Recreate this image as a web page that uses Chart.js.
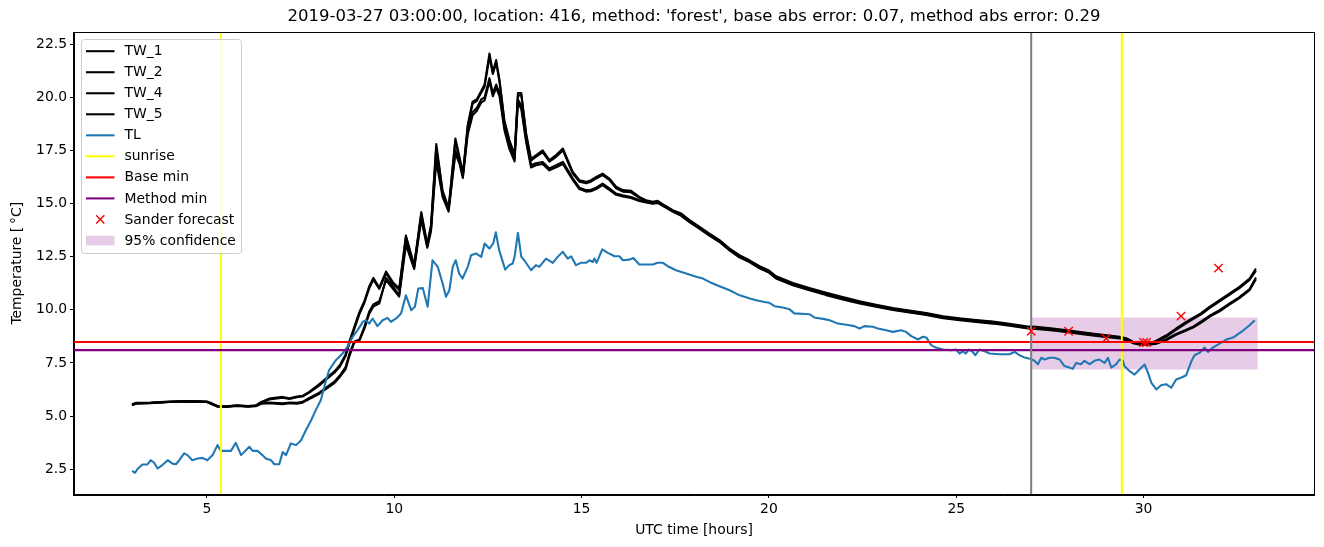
<!DOCTYPE html>
<html>
<head>
<meta charset="utf-8">
<script src="https://cdn.jsdelivr.net/npm/chart.js@4.4.1/dist/chart.umd.min.js"></script>
<style>
  html, body { margin: 0; padding: 0; background: #fff; }
  canvas { display: block; }
</style>
</head>
<body>
<canvas id="chart" width="1324" height="547"></canvas>
<script>
// --- chart text ---
const titleText = "2019-03-27 03:00:00, location: 416, method: 'forest', base abs error: 0.07, method abs error: 0.29";
const xLabel = 'UTC time [hours]';
const yLabel = 'Temperature [\u2009°C]';

// --- axes ---
const xTicks = [5, 10, 15, 20, 25, 30];
const yTicks = [2.5, 5.0, 7.5, 10.0, 12.5, 15.0, 17.5, 20.0, 22.5];
const X_MIN = 1.45, X_MAX = 34.55;
const Y_MIN = 1.33, Y_MAX = 23.05;

// --- water temperature sensors (shared time axis, hours UTC) ---
const twHours = [
  3.0, 3.1, 3.5, 4.0, 4.5, 5.0, 5.1, 5.28, 5.5, 5.8,
  6.1, 6.3, 6.45, 6.66, 7.02, 7.2, 7.4, 7.55, 7.73, 8.0,
  8.2, 8.4, 8.55, 8.7, 8.8, 8.93, 9.07, 9.2, 9.33, 9.44,
  9.6, 9.78, 9.96, 10.13, 10.31, 10.53, 10.72, 10.88, 10.98, 11.12,
  11.29, 11.45, 11.63, 11.74, 11.83, 11.96, 12.09, 12.2, 12.32, 12.41,
  12.54, 12.63, 12.72, 12.81, 12.94, 13.07, 13.21, 13.3, 13.39, 13.52,
  13.65, 13.78, 13.96, 14.14, 14.32, 14.5, 14.76, 14.94, 15.12, 15.25,
  15.39, 15.56, 15.74, 15.92, 16.1, 16.32, 16.54, 16.72, 16.9, 17.03,
  17.21, 17.43, 17.66, 17.88, 18.15, 18.41, 18.68, 18.95, 19.21, 19.48,
  19.75, 20.0, 20.19, 20.64, 21.08, 21.53, 21.97, 22.42, 22.86, 23.31,
  23.75, 24.2, 24.65, 25.09, 25.53, 25.98, 26.42, 26.87, 27.13, 27.58,
  28.02, 28.47, 28.91, 29.36, 29.54, 29.72, 29.9, 30.16, 30.34, 30.61,
  30.87, 31.14, 31.32, 31.54, 31.76, 32.03, 32.3, 32.56, 32.83, 33.0
];
const tw1 = [
  5.55, 5.62, 5.63, 5.68, 5.71, 5.68, 5.62, 5.47, 5.46, 5.50,
  5.47, 5.50, 5.66, 5.82, 5.90, 5.84, 5.92, 5.95, 6.14, 6.50,
  6.80, 7.10, 7.40, 7.90, 8.50, 9.18, 9.90, 10.40, 11.10, 11.50,
  11.05, 11.80, 11.30, 11.00, 13.50, 12.10, 14.60, 13.10, 14.00, 17.80,
  15.60, 14.80, 18.06, 17.20, 16.40, 18.70, 19.80, 19.90, 20.30, 20.60,
  22.06, 21.20, 21.75, 20.80, 18.90, 18.00, 17.30, 20.20, 20.20, 18.30,
  17.10, 17.27, 17.50, 17.04, 17.28, 17.59, 16.50, 16.10, 16.02, 16.10,
  16.25, 16.41, 16.18, 15.79, 15.63, 15.60, 15.31, 15.16, 15.08, 15.13,
  14.92, 14.69, 14.53, 14.22, 13.90, 13.59, 13.28, 12.88, 12.57, 12.33,
  12.05, 11.85, 11.58, 11.26, 11.02, 10.80, 10.60, 10.40, 10.24, 10.08,
  9.97, 9.85, 9.70, 9.60, 9.52, 9.45, 9.34, 9.22, 9.20, 9.12,
  9.02, 8.92, 8.82, 8.73, 8.66, 8.50, 8.42, 8.42, 8.55, 8.80,
  9.12, 9.43, 9.62, 9.84, 10.14, 10.45, 10.77, 11.08, 11.47, 11.94
];
const tw2 = [
  5.52, 5.60, 5.61, 5.66, 5.69, 5.66, 5.60, 5.45, 5.44, 5.48,
  5.45, 5.48, 5.62, 5.78, 5.86, 5.80, 5.88, 5.92, 6.10, 6.44,
  6.74, 7.04, 7.33, 7.82, 8.40, 9.08, 9.80, 10.32, 11.00, 11.42,
  10.98, 11.72, 11.22, 10.94, 13.40, 12.05, 14.50, 13.04, 13.90, 17.65,
  15.50, 14.72, 17.95, 17.10, 16.32, 18.60, 19.70, 19.82, 20.22, 20.50,
  21.90, 21.10, 21.62, 20.70, 18.82, 17.92, 17.22, 20.08, 20.10, 18.22,
  17.02, 17.20, 17.42, 16.97, 17.20, 17.50, 16.42, 16.03, 15.95, 16.03,
  16.18, 16.34, 16.11, 15.72, 15.56, 15.53, 15.26, 15.12, 15.04, 15.10,
  14.89, 14.66, 14.49, 14.19, 13.87, 13.56, 13.25, 12.86, 12.55, 12.30,
  12.02, 11.82, 11.55, 11.23, 10.99, 10.77, 10.57, 10.37, 10.21, 10.05,
  9.94, 9.82, 9.67, 9.57, 9.49, 9.42, 9.31, 9.19, 9.17, 9.09,
  8.99, 8.89, 8.79, 8.70, 8.63, 8.47, 8.40, 8.40, 8.50, 8.74,
  9.06, 9.37, 9.56, 9.78, 10.08, 10.39, 10.71, 11.02, 11.40, 11.84
];
const tw4 = [
  5.50, 5.58, 5.60, 5.66, 5.69, 5.66, 5.58, 5.44, 5.43, 5.47,
  5.44, 5.46, 5.58, 5.60, 5.56, 5.60, 5.58, 5.63, 5.80, 6.05,
  6.30, 6.55, 6.85, 7.20, 7.80, 8.45, 8.55, 9.10, 9.80, 10.15,
  10.30, 11.50, 11.10, 10.70, 13.20, 12.00, 14.40, 13.00, 13.80, 17.20,
  15.40, 14.70, 17.50, 17.00, 16.30, 18.40, 19.30, 19.50, 19.90, 20.00,
  20.90, 20.20, 20.60, 20.20, 18.60, 17.70, 17.10, 19.90, 19.60, 18.00,
  16.80, 16.90, 16.96, 16.65, 16.80, 16.96, 16.20, 15.75, 15.63, 15.65,
  15.75, 15.94, 15.71, 15.47, 15.39, 15.31, 15.16, 15.08, 15.02, 15.06,
  14.88, 14.65, 14.45, 14.15, 13.84, 13.52, 13.22, 12.82, 12.50, 12.27,
  11.98, 11.78, 11.50, 11.18, 10.95, 10.72, 10.52, 10.33, 10.17, 10.02,
  9.90, 9.78, 9.63, 9.54, 9.46, 9.38, 9.28, 9.16, 9.13, 9.06,
  8.96, 8.86, 8.76, 8.68, 8.60, 8.46, 8.38, 8.38, 8.42, 8.62,
  8.86, 9.06, 9.20, 9.45, 9.72, 9.98, 10.30, 10.60, 10.98, 11.52
];
const tw5 = [
  5.53, 5.60, 5.62, 5.67, 5.70, 5.67, 5.60, 5.46, 5.45, 5.49,
  5.46, 5.48, 5.60, 5.64, 5.60, 5.64, 5.62, 5.67, 5.85, 6.10,
  6.36, 6.62, 6.92, 7.30, 7.92, 8.50, 8.60, 9.20, 9.92, 10.25,
  10.40, 11.40, 11.00, 10.62, 13.05, 11.92, 14.25, 12.92, 13.70, 17.00,
  15.30, 14.62, 17.35, 16.88, 16.20, 18.25, 19.15, 19.35, 19.75, 19.85,
  20.75, 20.05, 20.45, 20.05, 18.45, 17.58, 16.98, 19.75, 19.45, 17.88,
  16.70, 16.80, 16.86, 16.56, 16.70, 16.86, 16.12, 15.68, 15.56, 15.58,
  15.68, 15.87, 15.64, 15.41, 15.33, 15.26, 15.12, 15.05, 14.99, 15.03,
  14.85, 14.62, 14.42, 14.12, 13.81, 13.49, 13.19, 12.79, 12.47, 12.24,
  11.95, 11.75, 11.47, 11.15, 10.92, 10.69, 10.49, 10.30, 10.14, 9.99,
  9.87, 9.75, 9.60, 9.51, 9.43, 9.35, 9.25, 9.13, 9.10, 9.03,
  8.93, 8.83, 8.73, 8.65, 8.57, 8.43, 8.36, 8.36, 8.40, 8.58,
  8.82, 9.02, 9.16, 9.40, 9.67, 9.93, 10.25, 10.55, 10.92, 11.44
];

// --- air temperature (own time axis) ---
const tlHours = [
  3.00, 3.08, 3.15, 3.28, 3.41, 3.50, 3.59, 3.68, 3.81, 3.95,
  4.08, 4.17, 4.26, 4.39, 4.48, 4.61, 4.75, 4.88, 5.01, 5.15,
  5.28, 5.37, 5.64, 5.77, 5.91, 6.13, 6.22, 6.35, 6.48, 6.57,
  6.71, 6.80, 6.93, 7.02, 7.11, 7.24, 7.38, 7.51, 7.64, 7.78,
  7.91, 8.04, 8.15, 8.26, 8.44, 8.62, 8.75, 8.89, 9.02, 9.16,
  9.24, 9.33, 9.42, 9.55, 9.69, 9.82, 9.91, 10.05, 10.18, 10.31,
  10.45, 10.55, 10.64, 10.76, 10.89, 11.02, 11.16, 11.29, 11.38, 11.47,
  11.56, 11.64, 11.73, 11.82, 11.96, 12.05, 12.18, 12.32, 12.41, 12.54,
  12.64, 12.71, 12.80, 12.96, 13.07, 13.16, 13.21, 13.30, 13.39, 13.47,
  13.65, 13.78, 13.87, 14.05, 14.23, 14.36, 14.50, 14.63, 14.72, 14.85,
  14.98, 15.12, 15.21, 15.30, 15.34, 15.40, 15.55, 15.70, 15.88, 16.01,
  16.10, 16.28, 16.38, 16.54, 16.90, 17.03, 17.17, 17.30, 17.52, 17.79,
  18.06, 18.24, 18.41, 18.68, 18.95, 19.22, 19.49, 19.66, 19.88, 20.01,
  20.15, 20.37, 20.55, 20.68, 21.08, 21.21, 21.48, 21.62, 21.84, 22.11,
  22.28, 22.42, 22.55, 22.77, 22.91, 23.13, 23.31, 23.53, 23.66, 23.80,
  23.98, 24.11, 24.20, 24.33, 24.47, 24.65, 24.87, 25.00, 25.09, 25.18,
  25.25, 25.34, 25.44, 25.51, 25.62, 25.76, 25.89, 26.16, 26.42, 26.56,
  26.69, 26.83, 26.96, 27.09, 27.18, 27.27, 27.36, 27.49, 27.62, 27.76,
  27.89, 28.02, 28.11, 28.20, 28.33, 28.42, 28.56, 28.69, 28.82, 28.96,
  29.05, 29.14, 29.27, 29.36, 29.45, 29.49, 29.63, 29.76, 29.89, 30.03,
  30.12, 30.21, 30.34, 30.47, 30.60, 30.74, 30.87, 31.00, 31.14, 31.27,
  31.36, 31.49, 31.63, 31.72, 31.85, 32.03, 32.21, 32.39, 32.52, 32.65,
  32.83, 32.97
];
const tlTemp = [
  2.42, 2.33, 2.52, 2.72, 2.72, 2.92, 2.80, 2.53, 2.69, 2.92,
  2.76, 2.73, 2.92, 3.24, 3.16, 2.92, 3.00, 3.03, 2.92, 3.16,
  3.63, 3.36, 3.36, 3.74, 3.16, 3.55, 3.36, 3.36, 3.16, 3.00,
  2.92, 2.73, 2.73, 3.30, 3.16, 3.71, 3.63, 3.86, 4.33, 4.80,
  5.30, 5.75, 6.50, 7.16, 7.63, 7.94, 8.25, 8.73, 9.04, 9.43,
  9.51, 9.35, 9.59, 9.23, 9.51, 9.62, 9.43, 9.59, 9.82, 10.68,
  9.98, 10.14, 11.00, 11.02, 10.14, 12.33, 12.02, 11.24, 10.61, 10.92,
  12.02, 12.33, 11.71, 11.47, 12.02, 12.57, 12.65, 12.49, 13.12, 12.88,
  13.12, 13.65, 12.80, 11.89, 12.10, 12.18, 12.49, 13.62, 12.49, 12.33,
  11.86, 12.10, 12.02, 12.41, 12.21, 12.49, 12.73, 12.41, 12.52, 12.10,
  12.21, 12.21, 12.33, 12.25, 12.41, 12.21, 12.84, 12.68, 12.52, 12.52,
  12.33, 12.36, 12.44, 12.13, 12.13, 12.21, 12.21, 12.05, 11.86, 11.71,
  11.55, 11.47, 11.31, 11.11, 10.92, 10.68, 10.53, 10.45, 10.37, 10.33,
  10.17, 10.11, 10.02, 9.83, 9.79, 9.64, 9.56, 9.51, 9.35, 9.28,
  9.23, 9.12, 9.23, 9.20, 9.12, 9.04, 8.96, 9.04, 8.96, 8.76,
  8.60, 8.73, 8.70, 8.34, 8.21, 8.13, 8.10, 8.13, 7.94, 8.05,
  7.94, 8.13, 8.02, 7.86, 8.13, 8.05, 7.94, 7.91, 7.91, 8.02,
  7.86, 7.75, 7.70, 7.60, 7.44, 7.74, 7.66, 7.74, 7.74, 7.66,
  7.35, 7.28, 7.22, 7.50, 7.44, 7.60, 7.44, 7.60, 7.66, 7.50,
  7.74, 7.28, 7.44, 7.66, 7.60, 7.35, 7.11, 6.95, 7.19, 7.42,
  7.03, 6.56, 6.25, 6.45, 6.50, 6.33, 6.72, 6.80, 6.92, 7.55,
  7.86, 7.97, 8.22, 8.02, 8.22, 8.41, 8.60, 8.69, 8.85, 9.01,
  9.27, 9.51
];

// --- reference lines ---
const sunriseHours = [5.37, 29.42];
const forecastStartHour = 27.0;
const baseMin = 8.48;
const methodMin = 8.10;

// --- forecast points and confidence band ---
const forecastHours = [27.0, 28.0, 29.0, 30.0, 30.08, 31.0, 32.0];
const forecastTemp = [8.99, 8.99, 8.65, 8.46, 8.46, 9.70, 11.96];
const bandHours = [27.0, 33.05];
const bandLow = [7.19, 7.19];
const bandHigh = [9.64, 9.64];

const FONT = 'DejaVu Sans';
const LW = 2.08; // 1.5pt at 100 dpi
const pts = (xs, ys) => xs.map((x, i) => ({ x: x, y: ys[i] }));

function lineSet(label, data, color, width, order, extra) {
  return Object.assign({
    label: label, data: data, borderColor: color, backgroundColor: color,
    borderWidth: width, pointRadius: 0, showLine: true, fill: false,
    tension: 0, borderJoinStyle: 'round', order: order, legendKind: 'line'
  }, extra || {});
}

const datasets = [
  lineSet('TW_1', pts(twHours, tw1), '#000000', LW, 10),
  lineSet('TW_2', pts(twHours, tw2), '#000000', LW, 9),
  lineSet('TW_4', pts(twHours, tw4), '#000000', LW, 8),
  lineSet('TW_5', pts(twHours, tw5), '#000000', LW, 7),
  lineSet('TL', pts(tlHours, tlTemp), '#1f77b4', LW, 6),
  lineSet('sunrise', [{ x: sunriseHours[0], y: Y_MIN }, { x: sunriseHours[0], y: Y_MAX }], '#ffff00', LW, 5),
  lineSet('sunrise_2', [{ x: sunriseHours[1], y: Y_MIN }, { x: sunriseHours[1], y: Y_MAX }], '#ffff00', LW, 5, { legendKind: null }),
  lineSet('Base min', [{ x: X_MIN, y: baseMin }, { x: X_MAX, y: baseMin }], '#ff0000', LW, 4),
  lineSet('Method min', [{ x: X_MIN, y: methodMin }, { x: X_MAX, y: methodMin }], '#800080', LW, 3),
  lineSet('forecast start', [{ x: forecastStartHour, y: Y_MIN }, { x: forecastStartHour, y: Y_MAX }], '#808080', LW, 2, { legendKind: null }),
  {
    label: 'Sander forecast', data: pts(forecastHours, forecastTemp), showLine: false,
    pointStyle: 'crossRot', pointRadius: 5.9, pointHoverRadius: 5.9, borderWidth: 1.4,
    borderColor: '#ff0000', backgroundColor: '#ff0000', order: 1, legendKind: 'marker'
  },
  {
    label: 'band_low', data: pts(bandHours, bandLow), showLine: true, borderWidth: 0,
    pointRadius: 0, fill: false, order: 21, legendKind: null, borderColor: 'rgba(0,0,0,0)'
  },
  {
    label: '95% confidence', data: pts(bandHours, bandHigh), showLine: true, borderWidth: 0,
    pointRadius: 0, fill: '-1', order: 20, legendKind: 'patch',
    borderColor: 'rgba(0,0,0,0)', backgroundColor: 'rgba(128,0,128,0.2)'
  }
];

// frame, title and legend drawn like matplotlib
const decorPlugin = {
  id: 'decor',
  afterDatasetsDraw(chart) {
    const { ctx, chartArea: a } = chart;
    ctx.save();
    ctx.strokeStyle = '#000';
    ctx.lineWidth = 1;
    ctx.strokeRect(Math.round(a.left) - 0.5, Math.round(a.top) - 0.5, Math.round(a.right - a.left) + 1, Math.round(a.bottom - a.top) + 1);
    ctx.restore();
  },
  afterDraw(chart) {
    const { ctx, chartArea: a } = chart;
    ctx.save();
    // title
    ctx.fillStyle = '#000';
    ctx.font = '16.5px "' + FONT + '"';
    ctx.textAlign = 'center';
    ctx.textBaseline = 'middle';
    ctx.fillText(titleText, (a.left + a.right) / 2, 17);

    // legend
    const items = chart.data.datasets.filter(d => d.legendKind);
    const bx = a.left + 7.5, by = a.top + 7, bw = 160, bh = 214;
    ctx.beginPath();
    if (ctx.roundRect) ctx.roundRect(bx, by, bw, bh, 3); else ctx.rect(bx, by, bw, bh);
    ctx.fillStyle = 'rgba(255,255,255,0.8)';
    ctx.fill();
    ctx.strokeStyle = '#cccccc';
    ctx.lineWidth = 1;
    ctx.stroke();

    ctx.font = '13.9px "' + FONT + '"';
    ctx.textAlign = 'left';
    items.forEach((d, i) => {
      const cy = by + 11.7 + i * 21.03;
      const x0 = bx + 4.5, x1 = bx + 33;
      if (d.legendKind === 'line') {
        ctx.strokeStyle = d.borderColor;
        ctx.lineWidth = d.borderWidth;
        ctx.beginPath();
        ctx.moveTo(x0, cy);
        ctx.lineTo(x1, cy);
        ctx.stroke();
      } else if (d.legendKind === 'marker') {
        const cx = (x0 + x1) / 2, r = 4.1;
        ctx.strokeStyle = d.borderColor;
        ctx.lineWidth = d.borderWidth;
        ctx.beginPath();
        ctx.moveTo(cx - r, cy - r); ctx.lineTo(cx + r, cy + r);
        ctx.moveTo(cx - r, cy + r); ctx.lineTo(cx + r, cy - r);
        ctx.stroke();
      } else if (d.legendKind === 'patch') {
        ctx.fillStyle = d.backgroundColor;
        ctx.fillRect(x0, cy - 4.8, x1 - x0, 9.7);
      }
      ctx.fillStyle = '#000';
      ctx.fillText(d.label, bx + 43, cy + 0.5);
    });
    ctx.restore();
  }
};

const tickFont = { family: FONT, size: 13.9 };

new Chart(document.getElementById('chart'), {
  type: 'scatter',
  data: { datasets: datasets },
  options: {
    responsive: false,
    animation: false,
    events: [],
    layout: { padding: { top: 32.5, right: 10, bottom: 0, left: 0 } },
    plugins: {
      legend: { display: false },
      title: { display: false },
      tooltip: { enabled: false },
      filler: { drawTime: 'beforeDatasetDraw' }
    },
    scales: {
      x: {
        type: 'linear', min: X_MIN, max: X_MAX,
        afterBuildTicks: s => { s.ticks = xTicks.map(v => ({ value: v })); },
        afterFit: s => { s.height = 53; },
        grid: { display: true, drawOnChartArea: false, drawTicks: true, tickLength: 4, tickColor: '#000', tickWidth: 1 },
        border: { display: true, color: '#000', width: 1 },
        ticks: { color: '#000', font: tickFont, padding: 3, maxRotation: 0, autoSkip: false, callback: v => String(v) },
        title: { display: true, text: xLabel, color: '#000', font: tickFont, padding: { top: 0, bottom: 8.5 } }
      },
      y: {
        type: 'linear', min: Y_MIN, max: Y_MAX,
        afterBuildTicks: s => { s.ticks = yTicks.map(v => ({ value: v })); },
        afterFit: s => { s.width = 74; },
        grid: { display: true, drawOnChartArea: false, drawTicks: true, tickLength: 4, tickColor: '#000', tickWidth: 1 },
        border: { display: true, color: '#000', width: 1 },
        ticks: { color: '#000', font: tickFont, padding: 3, autoSkip: false, callback: v => Number(v).toFixed(1) },
        title: { display: true, text: yLabel, color: '#000', font: tickFont, padding: { top: 9.5, bottom: 0 } }
      }
    }
  },
  plugins: [decorPlugin]
});
</script>
</body>
</html>
